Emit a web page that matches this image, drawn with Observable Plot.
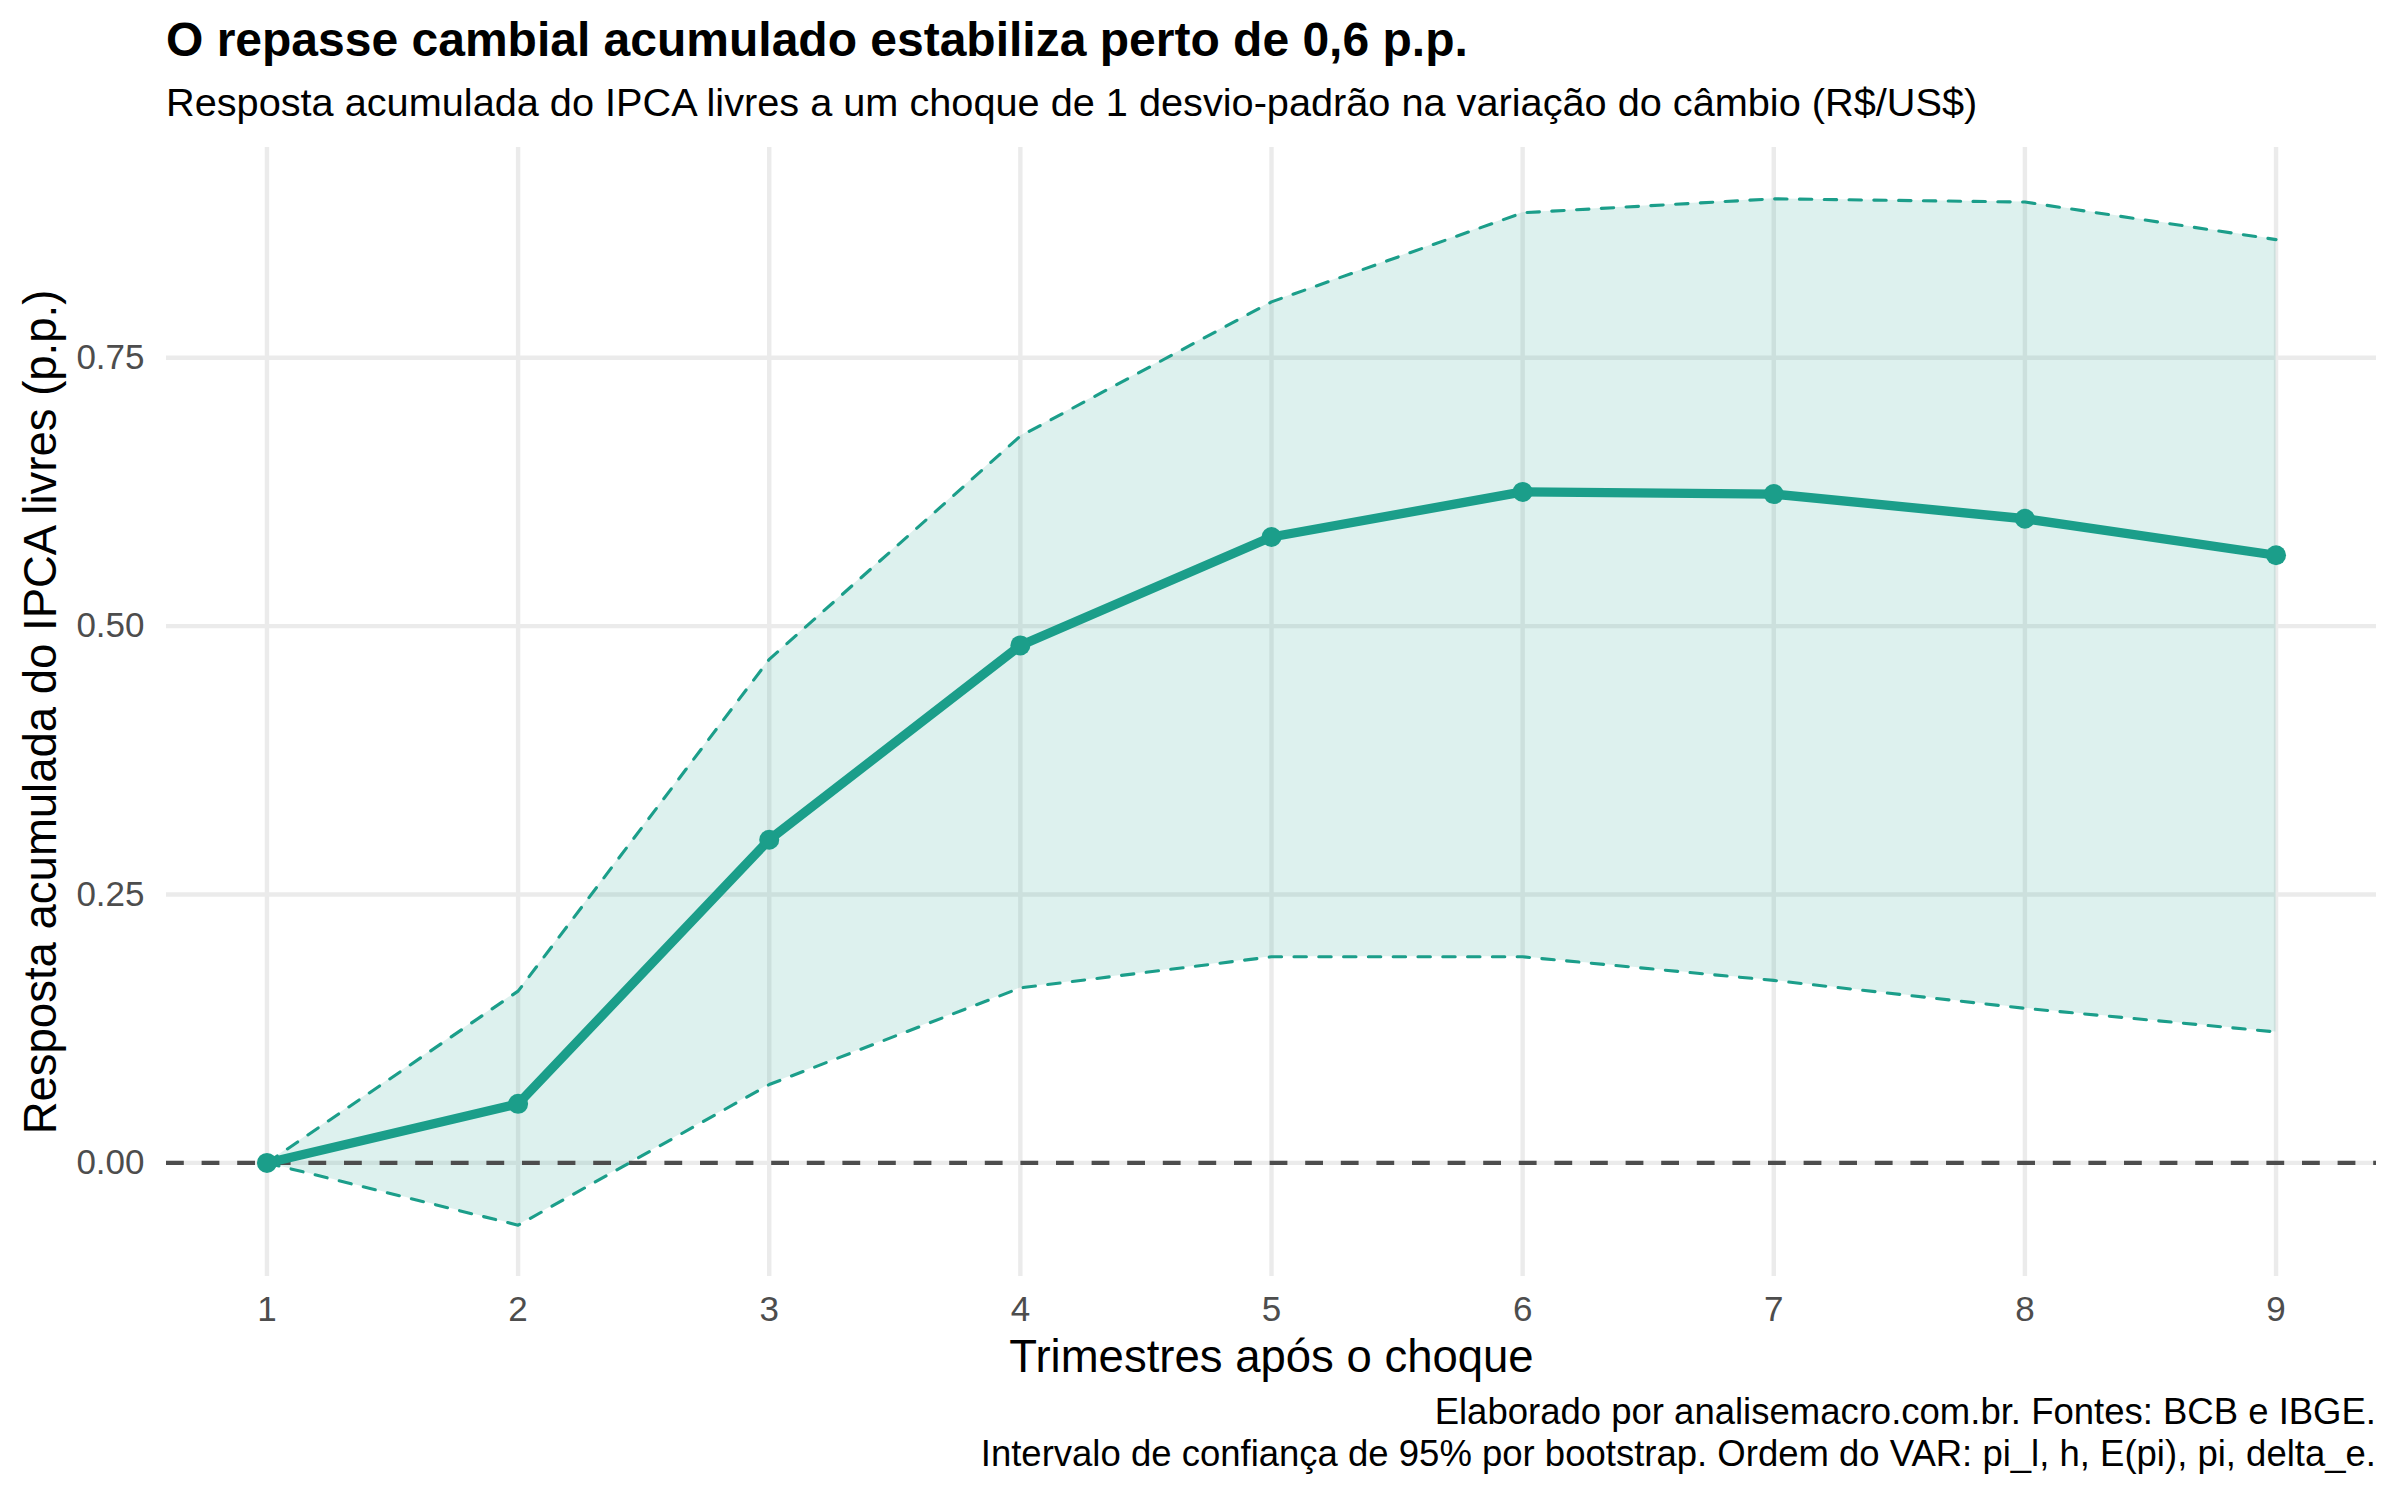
<!DOCTYPE html>
<html lang="pt-BR">
<head>
<meta charset="utf-8">
<script src="https://cdn.jsdelivr.net/npm/d3@7"></script>
<script src="https://cdn.jsdelivr.net/npm/@observablehq/plot@0.6"></script>
<style>
  html, body { margin: 0; padding: 0; background: #ffffff; }
  body { width: 2400px; height: 1500px; font-family: "Liberation Sans", Arial, Helvetica, sans-serif; color: #000; }
  .header { position: relative; width: 2400px; height: 140px; }
  .title { position: absolute; left: 166px; top: 16px; font-size: 48px; line-height: 1; font-weight: bold; white-space: nowrap; }
  .subtitle { position: absolute; left: 166px; top: 83px; font-size: 39.7px; line-height: 1; white-space: nowrap; }
  .caption { position: relative; width: 2400px; height: 110px; }
  .caption div { position: absolute; right: 24px; font-size: 36.5px; line-height: 1; white-space: nowrap; text-align: right; }
  #chart svg { display: block; }
</style>
</head>
<body>
<div class="header">
  <div class="title">O repasse cambial acumulado estabiliza perto de 0,6 p.p.</div>
  <div class="subtitle">Resposta acumulada do IPCA livres a um choque de 1 desvio-padrão na variação do câmbio (R$/US$)</div>
</div>
<div id="chart"></div>
<div class="caption">
  <div style="top: 4px;">Elaborado por analisemacro.com.br. Fontes: BCB e IBGE.</div>
  <div style="top: 46px;">Intervalo de confiança de 95% por bootstrap. Ordem do VAR: pi_l, h, E(pi), pi, delta_e.</div>
</div>
<script>
// Trimestres após o choque
const horizons = [1, 2, 3, 4, 5, 6, 7, 8, 9];
// Resposta acumulada do IPCA livres (p.p.)
const response = [0, 0.055, 0.301, 0.482, 0.583, 0.625, 0.623, 0.600, 0.566];
// Intervalo de confiança de 95% (bootstrap)
const lower = [0, -0.058, 0.073, 0.163, 0.192, 0.192, 0.170, 0.144, 0.122];
const upper = [0, 0.160, 0.469, 0.677, 0.802, 0.885, 0.898, 0.895, 0.860];
// Marcas do eixo vertical
const yTicks = [0, 0.25, 0.5, 0.75];

const xLabel = "Trimestres após o choque";
const yLabel = "Resposta acumulada do IPCA livres (p.p.)";

const teal = "#1b9e8a";

const rows = horizons.map((h, i) => ({h, est: response[i], lo: lower[i], hi: upper[i]}));

// Domínios com expansão de 5% em cada lado
function expand([a, b], f = 0.05) {
  const d = (b - a) * f;
  return [a - d, b + d];
}
const xDomain = expand(d3.extent(horizons));
const yDomain = expand([d3.min(lower.concat(response)), d3.max(upper.concat(response))]);

const chart = Plot.plot({
  width: 2400,
  height: 1250,
  marginTop: 7,
  marginBottom: 114,
  marginLeft: 166,
  marginRight: 24,
  style: {fontFamily: '"Liberation Sans", Arial, Helvetica, sans-serif', fontSize: "35px", background: "#ffffff"},
  x: {domain: xDomain},
  y: {domain: yDomain},
  marks: [
    Plot.gridX(horizons, {stroke: "#ebebeb", strokeOpacity: 1, strokeWidth: 4.4}),
    Plot.gridY(yTicks, {stroke: "#ebebeb", strokeOpacity: 1, strokeWidth: 4.4}),
    Plot.areaY(rows, {x: "h", y1: "lo", y2: "hi", fill: teal, fillOpacity: 0.15}),
    Plot.ruleY([0], {stroke: "#4d4d4d", strokeWidth: 4.4, strokeDasharray: "17.8,17.8"}),
    Plot.lineY(rows, {x: "h", y: "lo", stroke: teal, strokeWidth: 3.1, strokeDasharray: "12.4,12.4"}),
    Plot.lineY(rows, {x: "h", y: "hi", stroke: teal, strokeWidth: 3.1, strokeDasharray: "12.4,12.4"}),
    Plot.lineY(rows, {x: "h", y: "est", stroke: teal, strokeWidth: 9.3}),
    Plot.dot(rows, {x: "h", y: "est", fill: teal, r: 10}),
    Plot.axisX(horizons, {tickSize: 0, tickPadding: 20, label: null, tickFormat: d3.format("d"), fill: "#4d4d4d", fontSize: 35}),
    Plot.axisY(yTicks, {tickSize: 0, tickPadding: 22, label: null, tickFormat: d3.format(".2f"), fill: "#4d4d4d", fontSize: 35}),
    Plot.text([xLabel], {text: d => d, frameAnchor: "bottom", dy: 95, lineAnchor: "bottom", textAnchor: "middle", fontSize: 45.5, fill: "#000"}),
    Plot.text([yLabel], {text: d => d, frameAnchor: "left", rotate: -90, dx: -111, lineAnchor: "bottom", textAnchor: "middle", fontSize: 45.5, fill: "#000"})
  ]
});

document.getElementById("chart").appendChild(chart);
</script>
</body>
</html>
